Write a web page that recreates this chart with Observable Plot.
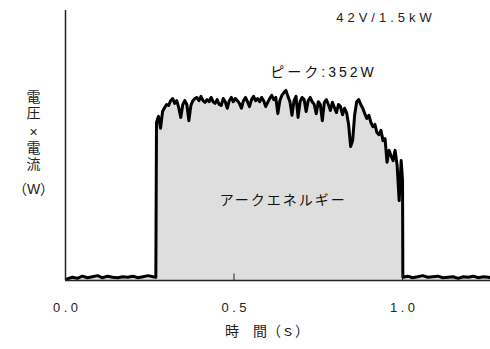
<!DOCTYPE html>
<html><head><meta charset="utf-8">
<script src="https://cdn.jsdelivr.net/npm/d3@7"></script>
<script src="https://cdn.jsdelivr.net/npm/@observablehq/plot@0.6"></script>
<style>body{margin:0;background:#fff}</style>
</head><body><div id="chart"></div>
<script>
// Time (s) and power (W)
const times = [
  0.005,0.02,0.035,0.05,0.065,0.08,0.095,0.11,0.125,0.14,0.155,0.17,0.185,0.2,0.215,0.23,0.245,0.26,0.268,
  0.270,0.276,0.282,0.288,0.294,0.300,0.306,0.312,0.318,0.324,0.330,0.336,0.342,0.348,0.354,0.360,0.366,0.372,0.378,0.384,
  0.390,0.396,0.402,0.408,0.414,0.420,0.426,0.432,0.438,0.444,0.450,0.456,0.462,0.468,0.474,0.480,0.486,0.492,0.498,
  0.504,0.510,0.516,0.522,0.528,0.534,0.540,0.546,0.552,0.558,0.564,0.570,0.576,0.582,0.588,0.594,0.600,0.606,0.612,
  0.618,0.624,0.630,0.636,0.642,0.648,0.654,0.660,0.666,0.672,0.678,0.684,0.690,0.696,0.702,0.708,0.714,0.720,0.726,
  0.732,0.738,0.744,0.750,0.756,0.762,0.768,0.774,0.780,0.786,0.792,0.798,0.804,0.810,0.816,0.822,0.828,0.834,0.840,
  0.846,0.852,0.858,0.864,0.870,0.876,0.882,0.888,0.894,0.900,0.906,0.912,0.918,0.924,0.930,0.936,0.942,0.948,0.954,
  0.960,0.966,0.972,0.978,0.984,0.990,0.996,1.000,
  1.001,1.015,1.03,1.045,1.06,1.075,1.09,1.105,1.12,1.135,1.15,1.165,1.18,1.195,1.21,1.225,1.24,1.255,1.261
];
const watts = [
  3,6,4,8,5,7,9,5,8,6,5,7,6,8,5,7,9,7,6,
  293,304,282,313,320,326,324,333,337,328,333,320,302,326,333,326,296,324,333,337,
  339,333,341,333,330,335,331,339,331,328,335,326,324,337,331,319,333,339,331,
  337,333,328,319,333,339,331,322,335,341,333,337,331,339,333,322,330,337,343,
  335,339,309,333,343,348,352,341,331,306,333,341,302,331,339,335,313,333,339,
  331,326,309,331,326,296,330,335,326,315,330,320,311,326,322,307,319,311,289,
  248,259,307,331,335,326,319,309,300,306,293,285,289,274,270,278,259,263,219,
  241,231,222,241,213,148,222,185,
  6,8,5,7,9,6,7,8,5,6,7,4,7,6,8,5,7,6,5
];
const xTicks = [0, 0.5, 1.0];
const annotationTexts = ["42V/1.5kW", "ピーク:352W", "アークエネルギー"];
const yLabelChars = ["電", "圧", "×", "電", "流", "（W）"];
const xLabel = "時　間（ｓ）";

const data = times.map((t, i) => ({t, w: watts[i]}));
const notes = [
  {t: 0.945, w: 487, label: annotationTexts[0]},
  {t: 0.761, w: 385, label: annotationTexts[1]},
  {t: 0.643, w: 148, label: annotationTexts[2]}
];
const yLabelRows = yLabelChars.map((c, i) => ({label: c, w: [339, 309, 274, 244, 215, 168][i]}));

const svg = Plot.plot({
  width: 490, height: 349,
  marginLeft: 65, marginRight: 0, marginTop: 10, marginBottom: 69,
  x: {domain: [0, 1.261], label: null},
  y: {domain: [0, 500], axis: null, label: null},
  style: {fontFamily: "'Liberation Sans','Noto Sans CJK JP',sans-serif", fontSize: "13px", color: "#222", background: "#fff"},
  marks: [
    Plot.areaY(data, {x: "t", y: "w", fill: "#dedede"}),
    Plot.line(data, {x: "t", y: "w", stroke: "#000", strokeWidth: 3}),
    Plot.ruleY([0], {stroke: "#222", strokeWidth: 1.5}),
    Plot.ruleX([0], {stroke: "#222", strokeWidth: 1.5}),
    Plot.ruleX(xTicks, {y1: 0, y2: 12, stroke: "#222", strokeWidth: 1}),
    Plot.axisX({ticks: xTicks, tickFormat: d3.format(".1f"), tickSize: 0, tickPadding: 22, fontSize: 13, fill: "#222", label: null}),
    Plot.text(notes.slice(0, 1), {x: "t", y: "w", text: "label", fontSize: 13, fill: "#222"}),
    Plot.text(notes.slice(1), {x: "t", y: "w", text: "label", fontSize: 14, fill: "#111"}),
    Plot.text(yLabelRows, {y: "w", text: "label", frameAnchor: "left", textAnchor: "middle", dx: -32, fontSize: 14, fill: "#222"}),
    Plot.text([{t: 0.598, label: xLabel}], {x: "t", text: "label", frameAnchor: "bottom", dy: 55, fontSize: 14, fill: "#222"})
  ]
});

const spacing = {"0.0": 3.5, "0.5": 3.5, "1.0": 3.5, "42V/1.5kW": 4, "ピーク:352W": 3, "アークエネルギー": 2};
d3.select(svg).selectAll("text").each(function() {
  const s = spacing[this.textContent];
  if (s) {
    d3.select(this).style("letter-spacing", s + "px");
    const dx = +(this.getAttribute("dx") || 0);
    d3.select(this).attr("dx", dx + s / 2);
  }
});
document.getElementById("chart").appendChild(svg);
</script>
</body></html>
